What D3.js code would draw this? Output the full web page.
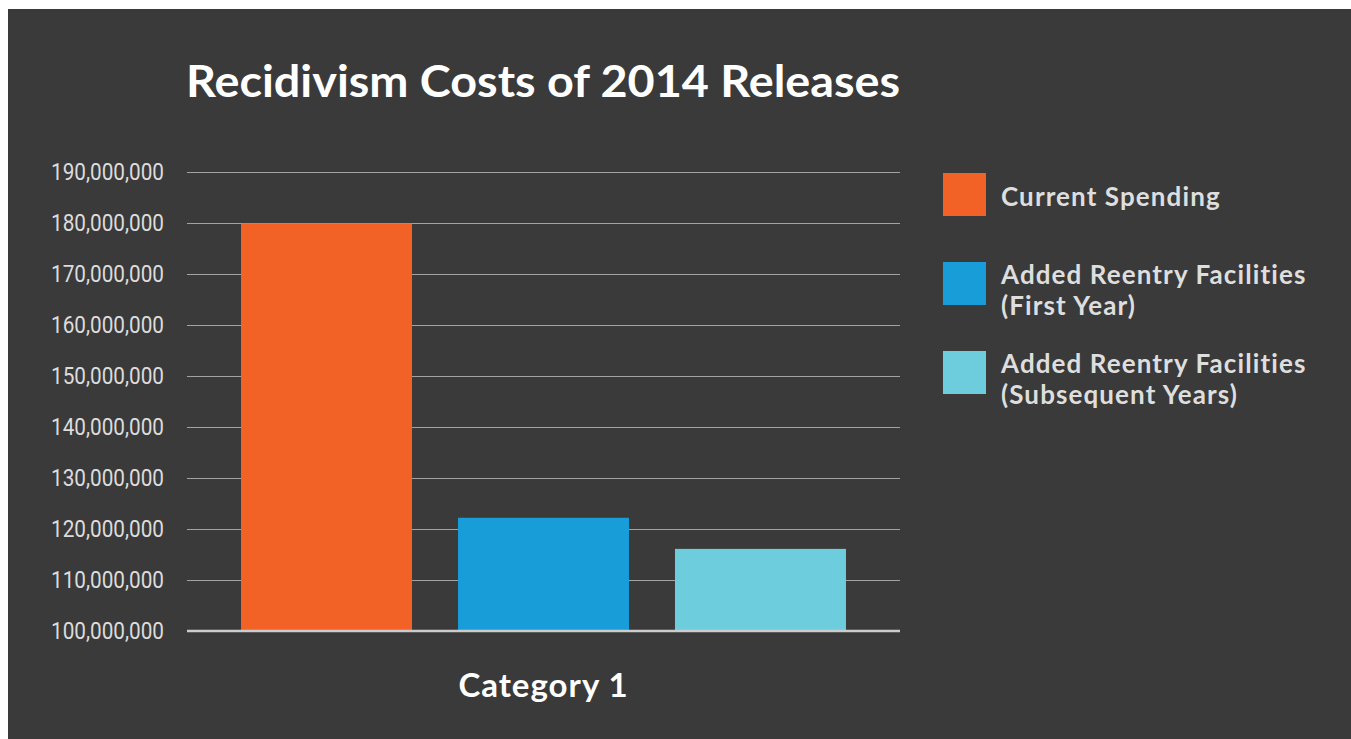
<html lang="en">
<head>
  <meta charset="UTF-8">
  <title>Recidivism Costs of 2014 Releases</title>
  <script src="https://d3js.org/d3.v7.min.js"></script>
</head>
<style>
  body { margin: 0; background: #fff; }
  .gridlines line { stroke: #a3a3a3; stroke-width: 1; }
  .gridlines .domain { stroke: none; }
  .y.axis .domain, .y.axis line { stroke: none; }
  .y.axis text { fill: #dcdcdc; font-family: Roboto, sans-serif; font-size: 23px; }
</style>
<body>
  <svg class="chart" width="1351" height="739"></svg>
  <script>
    // data
    const categories = ['Category 1'];
    const seriesNames = ['Current Spending', 'Added Reentry Facilities (First Year)', 'Added Reentry Facilities (Subsequent Years)'];
    const legendLines = [['Current Spending'], ['Added Reentry Facilities', '(First Year)'], ['Added Reentry Facilities', '(Subsequent Years)']];
    const seriesValues = [179900000, 122200000, 116100000];
    const seriesColors = ['#f26125', '#189dd9', '#6dcddd'];
    const yTicks = [100000000, 110000000, 120000000, 130000000, 140000000, 150000000, 160000000, 170000000, 180000000, 190000000];

    const svg = d3.select('svg.chart');
    const margins = { top: 172, right: 451, bottom: 108, left: 187 };
    const width = +svg.attr('width');
    const height = +svg.attr('height');
    const chartWidth = width - margins.left - margins.right;
    const chartHeight = height - margins.top - margins.bottom;

    svg.append('rect')
      .attr('x', 8).attr('y', 9)
      .attr('width', width - 8).attr('height', height - 9)
      .attr('fill', '#3a3a3a');

    svg.append('text')
      .attr('x', 186).attr('y', 97)
      .attr('textLength', 714).attr('lengthAdjust', 'spacingAndGlyphs')
      .style('font-family', 'Lato, sans-serif').style('font-weight', 700)
      .style('font-size', '44px').style('fill', '#ffffff')
      .text('Recidivism Costs of 2014 Releases');

    const chartArea = svg.append('g')
      .attr('transform', `translate(${margins.left},${margins.top})`);

    const yScale = d3.scaleLinear().domain([100000000, 190000000]).range([chartHeight, 0]);
    const xScale = d3.scaleBand().domain(categories).range([0, chartWidth]).paddingInner(0).paddingOuter(0.0893);
    const xInner = d3.scaleBand().domain(seriesNames).range([0, xScale.bandwidth()]).paddingInner(0.212).paddingOuter(0);

    chartArea.append('g')
      .attr('class', 'gridlines')
      .call(d3.axisLeft(yScale).tickValues(yTicks).tickSize(-chartWidth).tickFormat(''));

    chartArea.append('g')
      .attr('class', 'y axis')
      .attr('transform', 'translate(-23,0)')
      .call(d3.axisLeft(yScale).tickValues(yTicks).tickSize(0).tickFormat(d3.format(',')))
      .selectAll('text')
      .attr('x', 0)
      .attr('dy', '0.33em')
      .attr('textLength', 113).attr('lengthAdjust', 'spacingAndGlyphs');

    categories.forEach((c) => {
      seriesNames.forEach((s, i) => {
        chartArea.append('rect')
          .attr('x', xScale(c) + xInner(s))
          .attr('y', yScale(seriesValues[i]))
          .attr('width', xInner.bandwidth())
          .attr('height', chartHeight - yScale(seriesValues[i]))
          .style('fill', seriesColors[i]);
      });
      chartArea.append('text')
        .attr('x', xScale(c) + xScale.bandwidth() / 2)
        .attr('y', chartHeight + 66)
        .attr('text-anchor', 'middle')
        .style('font-family', 'Lato, sans-serif').style('font-weight', 700)
        .style('font-size', '33px').style('letter-spacing', '1px').style('fill', '#ffffff')
        .text(c);
    });

    // baseline
    chartArea.append('line')
      .attr('x1', 0).attr('x2', chartWidth)
      .attr('y1', chartHeight).attr('y2', chartHeight)
      .style('stroke', '#cccccc').style('stroke-width', 2.5);

    const legend = svg.append('g').attr('transform', 'translate(943,173)');
    legendLines.forEach((lines, i) => {
      const g = legend.append('g').attr('transform', `translate(0,${i * 89})`);
      g.append('rect').attr('width', 43).attr('height', 43).style('fill', seriesColors[i]);
      const first = lines.length === 1 ? 33 : 22;
      lines.forEach((t, j) => {
        g.append('text')
          .attr('x', 58).attr('y', first + j * 31)
          .style('font-family', 'Lato, sans-serif').style('font-weight', 700)
          .style('font-size', '26px').style('letter-spacing', '1.1px').style('fill', '#dedede')
          .text(t);
      });
    });
  </script>
</body>
</html>
